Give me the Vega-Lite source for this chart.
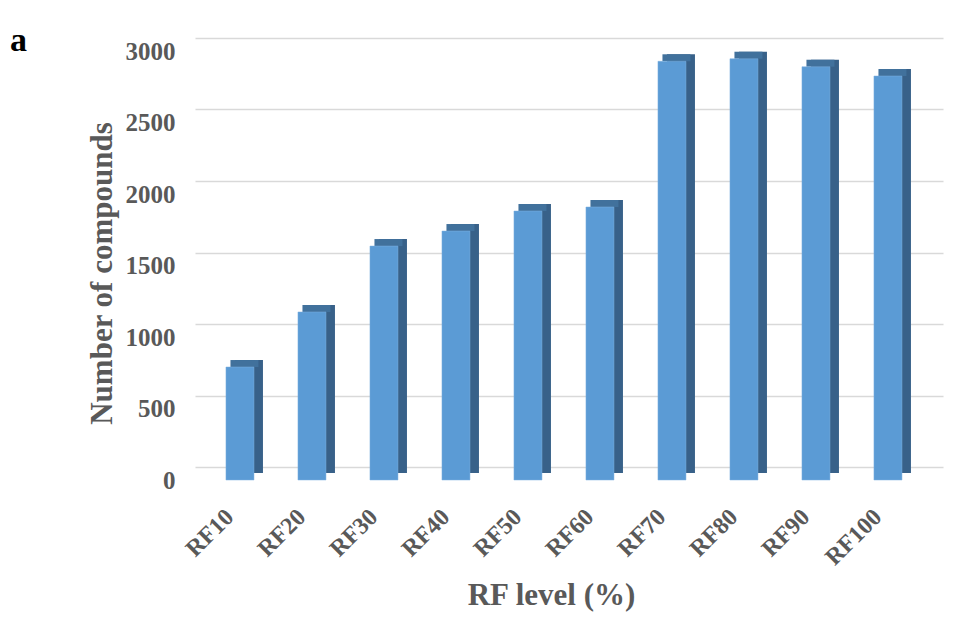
{
  "$schema": "https://vega.github.io/schema/vega-lite/v6.json",
  "width": 748,
  "height": 429,
  "autosize": {"type": "none"},
  "padding": {"left": 195, "top": 51, "right": 18, "bottom": 150},
  "background": "white",
  "title": {"text": "a", "anchor": "start", "frame": "group", "dx": -185, "dy": 19, "fontSize": 34, "font": "Liberation Serif", "fontWeight": "bold", "color": "#000000", "offset": 0},
  "data": {"values": [
    {"level": "RF10", "count": 790},
    {"level": "RF20", "count": 1175},
    {"level": "RF30", "count": 1636},
    {"level": "RF40", "count": 1741},
    {"level": "RF50", "count": 1881},
    {"level": "RF60", "count": 1909},
    {"level": "RF70", "count": 2928},
    {"level": "RF80", "count": 2946},
    {"level": "RF90", "count": 2890},
    {"level": "RF100", "count": 2825}
  ]},
  "encoding": {
    "x": {"field": "level", "type": "nominal", "sort": null,
      "scale": {"paddingInner": 0.611, "paddingOuter": 0.5, "align": 0.43},
      "axis": {"title": "RF level (%)", "labelAngle": -45, "labelAlign": "right", "labelBaseline": "middle", "labelPadding": 33, "labelOffset": -10, "ticks": false, "domain": false,
        "labelFont": "Liberation Serif", "labelFontWeight": "bold", "labelFontSize": 24, "labelColor": "#595959",
        "titleFont": "Liberation Serif", "titleFontWeight": "bold", "titleFontSize": 31, "titleColor": "#595959", "titleX": 356, "titlePadding": 11}},
    "y": {"field": "count", "type": "quantitative",
      "scale": {"domain": [0, 3000], "nice": false},
      "axis": {"title": "Number of compounds", "values": [0, 500, 1000, 1500, 2000, 2500, 3000], "format": "d", "ticks": false, "domain": false, "grid": true, "gridColor": "#d9d9d9", "gridWidth": 1.5, "tickOffset": -13, "labelOffset": 13, "labelPadding": 20,
        "labelFont": "Liberation Serif", "labelFontWeight": "bold", "labelFontSize": 25, "labelColor": "#595959",
        "titleFont": "Liberation Serif", "titleFontWeight": "bold", "titleFontSize": 31, "titleColor": "#595959", "titlePadding": 7, "titleY": 222}}
  },
  "layer": [
    {"mark": {"type": "bar", "color": "#386189", "xOffset": 9, "yOffset": -7, "y2Offset": -7}},
    {"mark": {"type": "bar", "color": "#41719c", "xOffset": 4.5, "yOffset": -7}, "encoding": {"y2": {"field": "count"}}},
    {"mark": {"type": "bar", "color": "#5b9bd5", "stroke": "#7fb1e0", "strokeWidth": 0.5}}
  ],
  "config": {"view": {"stroke": null}}
}
